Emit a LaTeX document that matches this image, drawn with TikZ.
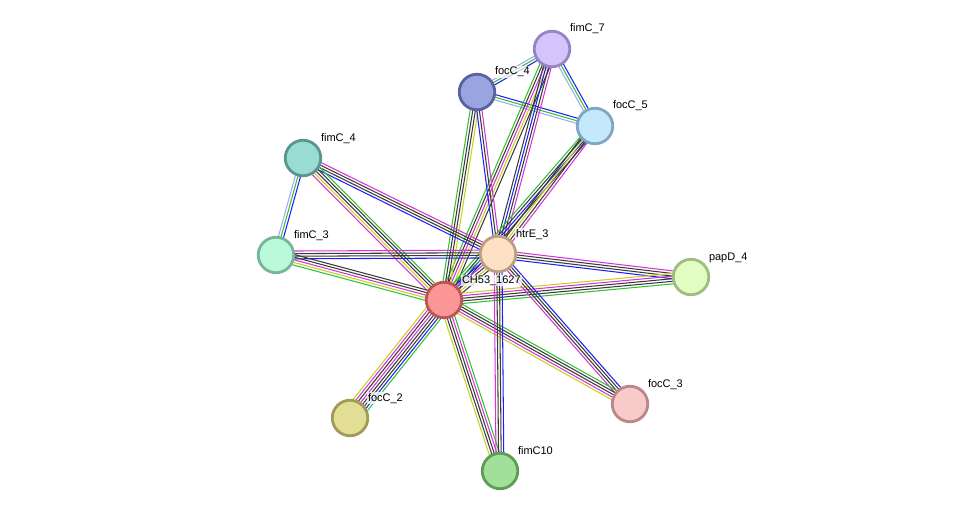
\documentclass[tikz,border=0pt]{standalone}
\usepackage{fontspec}
\setmainfont{Liberation Sans}
\usetikzlibrary{calc}
\pgfdeclarelayer{edges}
\pgfsetlayers{edges,main}
\definecolor{cgreen}{HTML}{33C033}
\definecolor{cblue}{HTML}{1F1FF5}
\definecolor{cmag}{HTML}{D632D6}
\definecolor{cblack}{HTML}{3A3A3A}
\definecolor{cyel}{HTML}{C3D21E}
\definecolor{clav}{HTML}{A4A4F8}
\tikzset{
  prot/.style={circle, minimum size=35.5pt, inner sep=0pt, line width=2.8pt},
  lbl/.style={anchor=base west, font=\fontsize{11}{13}\selectfont, inner sep=0.8pt, fill=white, fill opacity=0.75, text opacity=1},
  evline/.style={line width=1.05pt},
}
\newcommand\edgebundle[3]{%
  \foreach [count=\i] \c in {#3} {\xdef\nlines{\i}}%
  \foreach [count=\i] \c in {#3} {%
    \pgfmathsetmacro\off{(\i-(\nlines+1)/2)*2.6}%
    \draw[evline, \c] ($(#1.center)!\off pt!90:(#2.center)$) -- ($(#2.center)!\off pt!-90:(#1.center)$);
  }%
}
\begin{document}
\begin{tikzpicture}[x=1pt,y=-1pt]
\useasboundingbox (0,0) rectangle (976,516);
% nodes
\node[prot, draw={rgb,255:red,150;green,132;blue,196}, fill={rgb,255:red,212;green,196;blue,252}] (fimC7) at (552,49) {};
\node[prot, draw={rgb,255:red,88;green,99;blue,160}, fill={rgb,255:red,154;green,164;blue,224}] (focC4) at (477,92) {};
\node[prot, draw={rgb,255:red,128;green,166;blue,196}, fill={rgb,255:red,196;green,232;blue,252}] (focC5) at (595,126) {};
\node[prot, draw={rgb,255:red,90;green,150;blue,142}, fill={rgb,255:red,152;green,220;blue,212}] (fimC4) at (303,158) {};
\node[prot, draw={rgb,255:red,120;green,182;blue,152}, fill={rgb,255:red,186;green,250;blue,218}] (fimC3) at (276,255) {};
\node[prot, draw={rgb,255:red,186;green,160;blue,130}, fill={rgb,255:red,254;green,224;blue,194}] (htrE3) at (498,254) {};
\node[prot, draw={rgb,255:red,190;green,84;blue,84}, fill={rgb,255:red,250;green,150;blue,150}] (CH53) at (444,300) {};
\node[prot, draw={rgb,255:red,160;green,188;blue,128}, fill={rgb,255:red,226;green,252;blue,194}] (papD4) at (691,277) {};
\node[prot, draw={rgb,255:red,186;green,136;blue,136}, fill={rgb,255:red,248;green,202;blue,202}] (focC3) at (630,404) {};
\node[prot, draw={rgb,255:red,160;green,156;blue,88}, fill={rgb,255:red,226;green,222;blue,150}] (focC2) at (350,418) {};
\node[prot, draw={rgb,255:red,94;green,156;blue,88}, fill={rgb,255:red,160;green,224;blue,152}] (fimC10) at (500,471) {};
% edges
\begin{pgfonlayer}{edges}
\edgebundle{focC4}{fimC7}{cblue,cgreen,clav}
\edgebundle{fimC7}{focC5}{clav,cgreen,cblue}
\edgebundle{focC4}{focC5}{clav,cgreen,cblue}
\edgebundle{fimC4}{fimC3}{clav,cgreen,cblue}
\edgebundle{fimC7}{CH53}{cgreen,cblack,cmag,cyel,cblack}
\edgebundle{fimC7}{htrE3}{cblack,cblue,cblack,cmag}
\edgebundle{focC4}{CH53}{cgreen,cblack,cblack,cyel}
\edgebundle{focC4}{htrE3}{cblue,cblack,cmag}
\edgebundle{focC5}{CH53}{cgreen,cblack,cblue,cblack}
\edgebundle{focC5}{htrE3}{cblack,cyel,cblack,cmag}
\edgebundle{fimC4}{htrE3}{cblue,cblack,cblack,cmag}
\edgebundle{fimC4}{CH53}{cmag,cyel,cblack,cblack,cgreen}
\edgebundle{fimC3}{htrE3}{cblue,cblack,cblack,cmag}
\edgebundle{fimC3}{CH53}{cgreen,cyel,cmag,cblack,cblack}
\edgebundle{htrE3}{CH53}{cgreen,cblue,cmag,cblack,cyel,cblack}
\edgebundle{htrE3}{papD4}{cblue,cblack,cblack,cmag}
\edgebundle{CH53}{papD4}{cgreen,cblack,cblack,cmag,cyel}
\edgebundle{htrE3}{focC3}{cmag,cblack,cblack,cblue}
\edgebundle{CH53}{focC3}{cyel,cmag,cblack,cblack,cgreen}
\edgebundle{CH53}{focC2}{cyel,cmag,cblack,cmag,cblack,cblack,cblue,cgreen}
\edgebundle{CH53}{fimC10}{cyel,cblack,cblack,cmag,cgreen}
\edgebundle{htrE3}{fimC10}{cmag,cblack,cblack,cblue}
\end{pgfonlayer}
% labels
\node[lbl] (lfimC7) at ($(fimC7)+(17,-17)$) {fimC\_7};
\node[lbl] (lfocC4) at ($(focC4)+(17,-17)$) {focC\_4};
\node[lbl] (lfocC5) at ($(focC5)+(17,-17)$) {focC\_5};
\node[lbl] (lfimC4) at ($(fimC4)+(17,-17)$) {fimC\_4};
\node[lbl] (lfimC3) at ($(fimC3)+(17,-17)$) {fimC\_3};
\node[lbl] (lhtrE3) at ($(htrE3)+(17,-17)$) {htrE\_3};
\node[lbl] (lCH53) at ($(CH53)+(17,-17)$) {CH53\_1627};
\node[lbl] (lpapD4) at ($(papD4)+(17,-17)$) {papD\_4};
\node[lbl] (lfocC3) at ($(focC3)+(17,-17)$) {focC\_3};
\node[lbl] (lfocC2) at ($(focC2)+(17,-17)$) {focC\_2};
\node[lbl] (lfimC10) at ($(fimC10)+(17,-17)$) {fimC10};
\end{tikzpicture}
\end{document}
